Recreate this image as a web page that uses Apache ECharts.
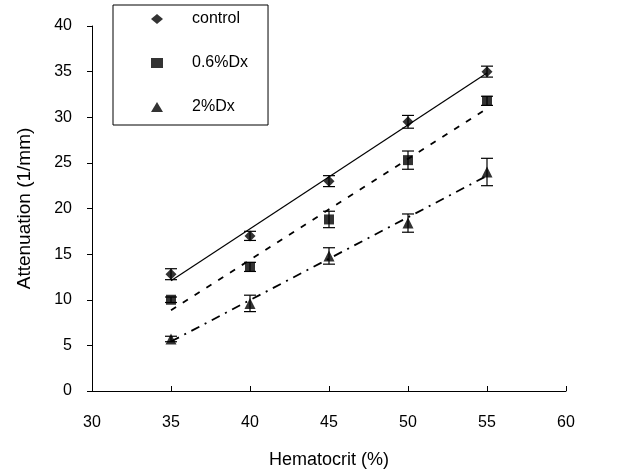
<!DOCTYPE html>
<html>
<head>
<meta charset="utf-8">
<script src="https://cdn.jsdelivr.net/npm/echarts@6/dist/echarts.min.js"></script>
<style>html,body{margin:0;padding:0;background:#fff}#c{width:624px;height:475px}</style>
</head>
<body>
<div id="c"></div>
<script>
const xValues = [35, 40, 45, 50, 55];
const controlMean = [12.8, 17.0, 23.0, 29.5, 35.0];
const controlErr = [0.6, 0.5, 0.6, 0.7, 0.6];
const dx06Mean = [10.0, 13.6, 18.8, 25.3, 31.8];
const dx06Err = [0.3, 0.5, 0.9, 1.0, 0.5];
const dx2Mean = [5.7, 9.6, 14.8, 18.4, 24.0];
const dx2Err = [0.3, 0.9, 0.9, 1.0, 1.5];
const seriesNames = ['control', '0.6%Dx', '2%Dx'];
const xTicks = [30, 35, 40, 45, 50, 55, 60];
const yTicks = [0, 5, 10, 15, 20, 25, 30, 35, 40];

function pairs(xs, ys) { return xs.map((x, i) => [x, ys[i]]); }
function errData(xs, ys, es) { return xs.map((x, i) => [x, ys[i] - es[i], ys[i] + es[i]]); }
function fit(xs, ys) {
  const n = xs.length;
  const mx = xs.reduce((a, b) => a + b, 0) / n;
  const my = ys.reduce((a, b) => a + b, 0) / n;
  let sxy = 0, sxx = 0;
  for (let i = 0; i < n; i++) { sxy += (xs[i] - mx) * (ys[i] - my); sxx += (xs[i] - mx) ** 2; }
  const b = sxy / sxx, a = my - b * mx;
  const x0 = xs[0], x1 = xs[n - 1];
  return [[x0, a + b * x0], [x1, a + b * x1]];
}
function errSeries(data) {
  return {
    type: 'custom', silent: true, z: 3,
    renderItem: function (params, api) {
      const x = api.value(0);
      const lo = api.coord([x, api.value(1)]);
      const hi = api.coord([x, api.value(2)]);
      const hw = 6;
      const st = { stroke: '#000', lineWidth: 1.2 };
      return { type: 'group', children: [
        { type: 'line', shape: { x1: lo[0], y1: lo[1], x2: hi[0], y2: hi[1] }, style: st },
        { type: 'line', shape: { x1: lo[0] - hw, y1: lo[1], x2: lo[0] + hw, y2: lo[1] }, style: st },
        { type: 'line', shape: { x1: hi[0] - hw, y1: hi[1], x2: hi[0] + hw, y2: hi[1] }, style: st }
      ]};
    },
    data: data
  };
}
const font = 'Liberation Sans, Arial, sans-serif';
const chart = echarts.init(document.getElementById('c'), null, { renderer: 'canvas' });
chart.setOption({
  animation: false,
  backgroundColor: '#fff',
  grid: { left: 92, right: 58, top: 26, bottom: 84 },
  legend: {
    data: seriesNames,
    orient: 'vertical',
    left: 113, top: 5,
    padding: [5, 20, 9, 38],
    itemGap: 26,
    itemWidth: 12, itemHeight: 10,
    borderColor: '#000', borderWidth: 1,
    backgroundColor: '#fff',
    textStyle: { fontFamily: font, fontSize: 16, lineHeight: 18, color: '#000', padding: [0, 0, 0, 24] }
  },
  xAxis: {
    type: 'value', min: 30, max: 60, interval: 5,
    name: 'Hematocrit (%)', nameLocation: 'middle', nameGap: 60,
    nameTextStyle: { fontFamily: font, fontSize: 18, color: '#000' },
    axisLine: { lineStyle: { color: '#000', width: 1 } },
    axisTick: { inside: true, length: 5, lineStyle: { color: '#000' } },
    axisLabel: { fontFamily: font, fontSize: 16, color: '#000', margin: 24,
      formatter: v => xTicks.includes(v) ? String(v) : '' },
    splitLine: { show: false }
  },
  yAxis: {
    type: 'value', min: 0, max: 40, interval: 5,
    name: 'Attenuation (1/mm)', nameLocation: 'middle', nameGap: 58,
    nameTextStyle: { fontFamily: font, fontSize: 19, color: '#000' },
    axisLine: { show: true, lineStyle: { color: '#000', width: 1 } },
    axisTick: { show: true, inside: false, length: 5, lineStyle: { color: '#000' } },
    axisLabel: { fontFamily: font, fontSize: 16, color: '#000', margin: 20,
      formatter: v => yTicks.includes(v) ? String(v) : '' },
    splitLine: { show: false }
  },
  series: [
    { name: 'control', type: 'scatter', symbol: 'diamond', symbolSize: [11, 11],
      itemStyle: { color: '#000' }, z: 4, data: pairs(xValues, controlMean) },
    { name: '0.6%Dx', type: 'scatter', symbol: 'rect', symbolSize: 10,
      itemStyle: { color: '#000' }, z: 4, data: pairs(xValues, dx06Mean) },
    { name: '2%Dx', type: 'scatter', symbol: 'triangle', symbolSize: 11,
      itemStyle: { color: '#000' }, z: 4, data: pairs(xValues, dx2Mean) },
    errSeries(errData(xValues, controlMean, controlErr)),
    errSeries(errData(xValues, dx06Mean, dx06Err)),
    errSeries(errData(xValues, dx2Mean, dx2Err)),
    { type: 'line', symbol: 'none', silent: true, z: 2,
      lineStyle: { color: '#000', width: 1.2, type: 'solid' }, data: fit(xValues, controlMean) },
    { type: 'line', symbol: 'none', silent: true, z: 2,
      lineStyle: { color: '#000', width: 1.8, type: [6, 8] }, data: fit(xValues, dx06Mean) },
    { type: 'line', symbol: 'none', silent: true, z: 2,
      lineStyle: { color: '#000', width: 1.8, type: [9, 6, 2, 6] }, data: fit(xValues, dx2Mean) }
  ]
});
</script>
</body>
</html>
